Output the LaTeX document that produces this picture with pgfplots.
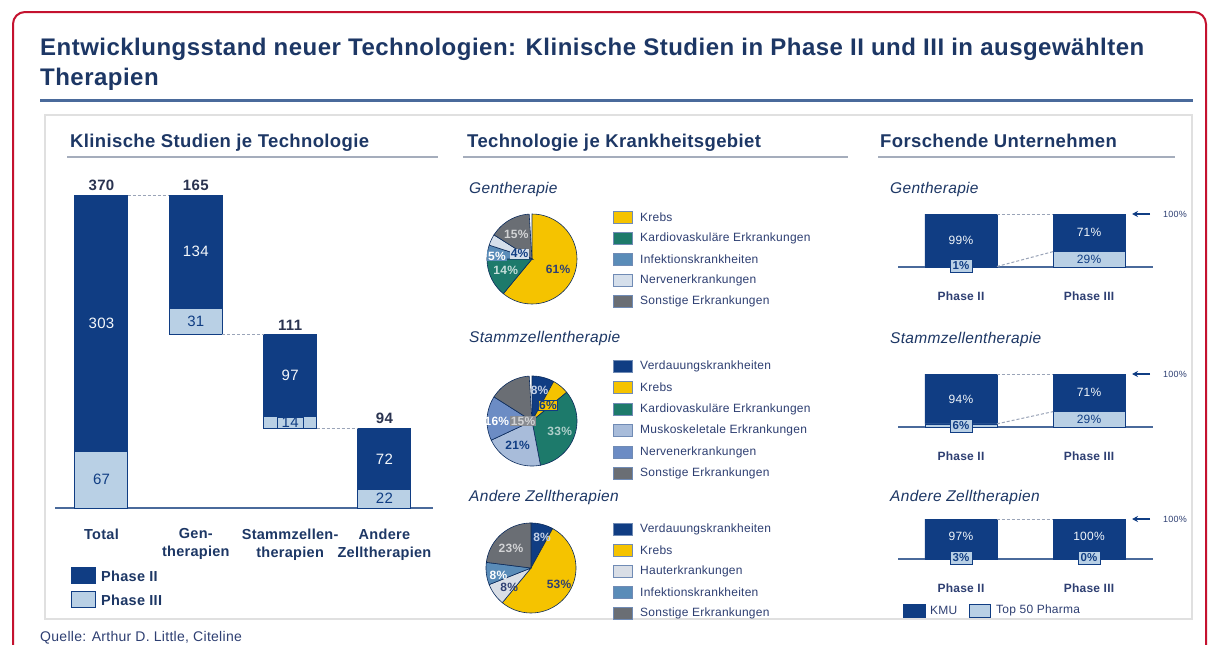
\documentclass[border=0pt]{standalone}
\usepackage{fontspec}
\setmainfont{Liberation Sans}[LetterSpace=2]
\usepackage{pgfplots}
\pgfplotsset{compat=1.18}
\usepgfplotslibrary{polar}
\usetikzlibrary{arrows.meta}

\definecolor{navy}{HTML}{1D3765}
\definecolor{txt}{HTML}{2E3F72}
\definecolor{tot}{HTML}{2A3350}
\definecolor{bardark}{HTML}{103D83}
\definecolor{barlight}{HTML}{B9D0E5}
\definecolor{krebs}{HTML}{F5C300}
\definecolor{kardio}{HTML}{1D7A6B}
\definecolor{infekt}{HTML}{5A8CB8}
\definecolor{nervlight}{HTML}{D5DFEB}
\definecolor{nervmid}{HTML}{6C8CC4}
\definecolor{musko}{HTML}{A8BCDA}
\definecolor{sonst}{HTML}{6A6E74}
\definecolor{haut}{HTML}{D9DEE6}
\definecolor{frame}{HTML}{C4122F}
\definecolor{rule}{HTML}{4A6A9B}
\definecolor{hdr}{HTML}{A5ADBC}
\definecolor{conn}{HTML}{9AA4B8}

\newcommand\fs[1]{\fontsize{#1}{#1}\selectfont}

% pie slice: colour, cumulative start %, cumulative end % (clockwise from 12 o'clock)
\newcommand\slice[3]{%
  \addplot[fill=#1, draw=bardark!70!black, line width=0.6pt,
    domain=90-3.6*#3:90-3.6*#2, samples=40] {1} -- (axis cs:0,0) -- cycle;}

\tikzset{
  pl/.style={font=\fs{12}\bfseries, inner sep=0.8pt},
  pv/.style={font=\fs{12}, inner sep=1pt},
  small/.style={font=\fs{11.5}\bfseries, text=bardark, fill=barlight, draw=bardark,
    line width=0.6pt, inner sep=1pt, minimum width=22pt, minimum height=13pt},
}
\pgfplotsset{
  pie/.style={hide axis, scale only axis, width=90pt, height=90pt,
    ymin=0, ymax=1, anchor=center, clip=false},
  wf/.style={scale only axis, width=378pt, height=313pt, ymin=0, ymax=370,
    xmin=-0.493, xmax=3.515, anchor=south west, clip=false},
  rc/.style={scale only axis, width=255pt, height=#1, xmin=-0.492, xmax=1.5,
    ymin=0, ymax=100, anchor=south west, clip=false},
  rbars/.style={rc=#1, ybar stacked, bar width=72pt,
    axis x line=bottom, axis y line=none,
    axis line style={-, draw=rule, line width=2pt},
    xtick={0,1}, xticklabels={Phase II,Phase III}, major tick length=0pt,
    xticklabel style={font=\fs{12}\bfseries, text=txt, yshift=-21pt}},
  rlines/.style={rc=#1, hide axis},
  cn/.style={densely dashed, draw=conn, line width=1pt, no marks},
}

\begin{document}
\begin{tikzpicture}
\useasboundingbox (0pt,0pt) rectangle (1210pt,-645pt);
\begin{scope}[x=1pt,y=-1pt]
\fill[white] (0,0) rectangle (1210,645);
\draw[frame, line width=2pt, rounded corners=12pt] (13,12) rectangle (1206,720);
\node[anchor=base west, text=navy, font=\fs{24}\bfseries, inner sep=0] at (40,55)
  {Entwicklungsstand neuer Technologien: Klinische Studien in Phase II und III in ausgewählten};
\node[anchor=base west, text=navy, font=\fs{24}\bfseries, inner sep=0] at (40,85) {Therapien};
\draw[rule, line width=3pt] (40,100) -- (1193,100);
\draw[black!12, line width=2pt] (45,115) rectangle (1192,619);

% section headers
\node[anchor=base west, text=navy, font=\fs{18.5}\bfseries, inner sep=0] at (70,147) {Klinische Studien je Technologie};
\draw[hdr, line width=2.5pt] (67,157) -- (438,157);
\node[anchor=base west, text=navy, font=\fs{18.5}\bfseries, inner sep=0] at (467,147) {Technologie je Krankheitsgebiet};
\draw[hdr, line width=2.5pt] (463,157) -- (848,157);
\node[anchor=base west, text=navy, font=\fs{18.5}\bfseries, inner sep=0] at (880,147) {Forschende Unternehmen};
\draw[hdr, line width=2.5pt] (878,157) -- (1175,157);

% waterfall legend
\filldraw[fill=bardark, draw=bardark] (71,567) rectangle (95,583);
\node[anchor=west, text=navy, font=\fs{14.5}\bfseries, inner sep=0] at (101,576) {Phase II};
\filldraw[fill=barlight, draw=bardark, line width=0.8pt] (71,591) rectangle (95,607);
\node[anchor=west, text=navy, font=\fs{14.5}\bfseries, inner sep=0] at (101,600) {Phase III};

% pie subtitles
\node[anchor=base west, text=navy, font=\fs{15.5}\itshape, inner sep=0] at (469,193) {Gentherapie};
\node[anchor=base west, text=navy, font=\fs{15.5}\itshape, inner sep=0] at (469,342) {Stammzellentherapie};
\node[anchor=base west, text=navy, font=\fs{15.5}\itshape, inner sep=0] at (469,501) {Andere Zelltherapien};
\node[anchor=base west, text=navy, font=\fs{15.5}\itshape, inner sep=0] at (890,193) {Gentherapie};
\node[anchor=base west, text=navy, font=\fs{15.5}\itshape, inner sep=0] at (890,343) {Stammzellentherapie};
\node[anchor=base west, text=navy, font=\fs{15.5}\itshape, inner sep=0] at (890,501) {Andere Zelltherapien};

% pie legends
\foreach \c/\t [count=\i from 0] in {krebs/Krebs, kardio/Kardiovaskuläre Erkrankungen,
    infekt/Infektionskrankheiten, nervlight/Nervenerkrankungen, sonst/Sonstige Erkrankungen}{
  \filldraw[fill=\c, draw=bardark!60, line width=0.7pt] (613,211+21*\i) rectangle (632,223+21*\i);
  \node[anchor=west, text=txt, font=\fs{12}, inner sep=0] at (640,217+21*\i) {\t};}
\foreach \c/\t [count=\i from 0] in {bardark/Verdauungskrankheiten, krebs/Krebs,
    kardio/Kardiovaskuläre Erkrankungen, musko/Muskoskeletale Erkrankungen,
    nervmid/Nervenerkrankungen, sonst/Sonstige Erkrankungen}{
  \filldraw[fill=\c, draw=bardark!60, line width=0.7pt] (613,360+21.5*\i) rectangle (632,372+21.5*\i);
  \node[anchor=west, text=txt, font=\fs{12}, inner sep=0] at (640,366+21.5*\i) {\t};}
\foreach \c/\t [count=\i from 0] in {bardark/Verdauungskrankheiten, krebs/Krebs,
    haut/Hauterkrankungen, infekt/Infektionskrankheiten, sonst/Sonstige Erkrankungen}{
  \filldraw[fill=\c, draw=bardark!60, line width=0.7pt] (613,523+21*\i) rectangle (632,535+21*\i);
  \node[anchor=west, text=txt, font=\fs{12}, inner sep=0] at (640,529+21*\i) {\t};}

% 100% arrows
\foreach \y in {214,374,519}{
  \draw[-{Stealth[length=6pt,width=6pt]}, bardark, line width=1.5pt] (1150,\y) -- (1132,\y);
  \node[anchor=west, text=txt, font=\fs{9}, inner sep=0] at (1163,\y) {100\%};}

% KMU legend
\filldraw[fill=bardark, draw=bardark] (903,604) rectangle (925,617);
\node[anchor=west, text=txt, font=\fs{12}, inner sep=0] at (930,610.5) {KMU};
\filldraw[fill=barlight, draw=bardark, line width=0.7pt] (969,604) rectangle (990,617);
\node[anchor=west, text=txt, font=\fs{12}, inner sep=0] at (996,610.5) {Top 50 Pharma};

\node[anchor=base west, text=txt, font=\fs{14}, inner sep=0] at (40,641) {Quelle: Arthur D. Little, Citeline};
\end{scope}

% ---- waterfall: Klinische Studien je Technologie
\begin{axis}[wf, at={(55pt,-508pt)}, ybar stacked, bar width=53pt,
  axis x line=bottom, axis y line=none, axis line style={-, draw=rule, line width=2.5pt},
  xtick={0,1,2,3},
  xticklabels={Total,{Gen-\\therapien},{Stammzellen-\\therapien},{Andere\\Zelltherapien}},
  major tick length=0pt,
  xticklabel style={align=center, font=\fontsize{14.5}{18}\selectfont\bfseries, text=navy, yshift=-17pt}]
\addplot[draw=none, fill=none] coordinates {(0,0) (1,205) (2,94) (3,0)};
\addplot[fill=barlight, draw=bardark, line width=1pt] coordinates {(0,67) (1,31) (2,14) (3,22)};
\addplot[fill=bardark, draw=bardark, line width=1pt] coordinates {(0,303) (1,134) (2,97) (3,72)};
\end{axis}
\begin{axis}[wf, at={(55pt,-508pt)}, hide axis]
\addplot[cn] coordinates {(0.281,370) (0.719,370)};
\addplot[cn] coordinates {(1.281,205) (1.719,205)};
\addplot[cn] coordinates {(2.281,94) (2.719,94)};
\foreach \x/\y/\v in {0/370/370, 1/370/165, 2/205/111, 3/94/94}{
  \edef\tmp{\noexpand\node[anchor=south, font=\noexpand\fs{15}\noexpand\bfseries, text=tot, yshift=1pt] at (axis cs:\x,\y) {\v};}\tmp}
\foreach \x/\y/\v in {0/218.5/303, 1/303/134, 2/156.5/97, 3/58/72}{
  \edef\tmp{\noexpand\node[font=\noexpand\fs{15}, text=white!85!barlight] at (axis cs:\x,\y) {\v};}\tmp}
\foreach \x/\y/\v in {0/33.5/67, 1/220.5/31, 3/11/22}{
  \edef\tmp{\noexpand\node[font=\noexpand\fs{15}, text=bardark] at (axis cs:\x,\y) {\v};}\tmp}
\node[font=\fs{15}, text=bardark, fill=barlight, draw=bardark, line width=0.8pt, inner sep=0.5pt, minimum width=26pt] at (axis cs:2,101) {14};
\end{axis}

% ---- pies: Technologie je Krankheitsgebiet
\begin{polaraxis}[pie, at={(532pt,-259pt)}]
\slice{krebs}{0}{61}
\slice{kardio}{61}{75}
\slice{infekt}{75}{80}
\slice{nervlight}{80}{84}
\slice{sonst}{84}{99}
\node[pl, text=txt] at (axis cs:-21,0.62) {61\%};
\node[pl, text=white!75!kardio] at (axis cs:204,0.64) {14\%};
\node[pl, text=white, fill=infekt] at (axis cs:175,0.78) {5\%};
\node[pl, text=bardark, fill=nervlight] at (axis cs:157,0.3) {4\%};
\node[pl, text=white!70!sonst] at (axis cs:123,0.64) {15\%};
\end{polaraxis}

\begin{polaraxis}[pie, at={(532pt,-421pt)}]
\slice{bardark}{0}{8}
\slice{krebs}{8}{14}
\slice{kardio}{14}{47}
\slice{musko}{47}{68}
\slice{nervmid}{68}{84}
\slice{sonst}{84}{99}
\node[pl, text=white!60!nervmid] at (axis cs:76,0.7) {8\%};
\node[pl, text=bardark, fill=krebs, draw=bardark, line width=0.6pt] at (axis cs:45,0.5) {6\%};
\node[pl, text=white!65!kardio] at (axis cs:-21,0.66) {33\%};
\node[pl, text=bardark] at (axis cs:239,0.62) {21\%};
\node[pl, text=white] at (axis cs:180,0.78) {16\%};
\node[pl, text=white!70!sonst, fill=sonst!80] at (axis cs:180,0.2) {15\%};
\end{polaraxis}

\begin{polaraxis}[pie, at={(531pt,-568pt)}]
\slice{bardark}{0}{8}
\slice{krebs}{8}{61}
\slice{haut}{61}{69}
\slice{infekt}{69}{77}
\slice{sonst}{77}{100}
\node[pl, text=white!60!nervmid] at (axis cs:70,0.72) {8\%};
\node[pl, text=txt] at (axis cs:-30,0.72) {53\%};
\node[pl, text=txt] at (axis cs:221,0.64) {8\%};
\node[pl, text=white] at (axis cs:192,0.74) {8\%};
\node[pl, text=white!70!sonst] at (axis cs:136,0.62) {23\%};
\end{polaraxis}

% ---- Forschende Unternehmen
\begin{axis}[rbars=53pt, at={(898pt,-267pt)}]
\addplot[fill=barlight, draw=bardark, line width=0.6pt] coordinates {(0,1) (1,29)};
\addplot[fill=bardark, draw=bardark, line width=0.6pt] coordinates {(0,99) (1,71)};
\end{axis}
\begin{axis}[rlines=53pt, at={(898pt,-267pt)}]
\addplot[cn] coordinates {(0.281,100) (0.719,100)};
\addplot[cn] coordinates {(0.281,1) (0.719,29)};
\node[pv, text=white!80!barlight] at (axis cs:0,50.5) {99\%};
\node[pv, text=white!80!barlight] at (axis cs:1,64.5) {71\%};
\node[pv, text=bardark] at (axis cs:1,14.5) {29\%};
\node[small, yshift=1.5pt] at (axis cs:0,0) {1\%};
\end{axis}

\begin{axis}[rbars=53pt, at={(898pt,-427pt)}]
\addplot[fill=barlight, draw=bardark, line width=0.6pt] coordinates {(0,6) (1,29)};
\addplot[fill=bardark, draw=bardark, line width=0.6pt] coordinates {(0,94) (1,71)};
\end{axis}
\begin{axis}[rlines=53pt, at={(898pt,-427pt)}]
\addplot[cn] coordinates {(0.281,100) (0.719,100)};
\addplot[cn] coordinates {(0.281,6) (0.719,29)};
\node[pv, text=white!80!barlight] at (axis cs:0,53) {94\%};
\node[pv, text=white!80!barlight] at (axis cs:1,64.5) {71\%};
\node[pv, text=bardark] at (axis cs:1,14.5) {29\%};
\node[small, yshift=1.5pt] at (axis cs:0,0) {6\%};
\end{axis}

\begin{axis}[rbars=40pt, at={(898pt,-559pt)}]
\addplot[fill=barlight, draw=bardark, line width=0.6pt] coordinates {(0,3) (1,0)};
\addplot[fill=bardark, draw=bardark, line width=0.6pt] coordinates {(0,97) (1,100)};
\end{axis}
\begin{axis}[rlines=40pt, at={(898pt,-559pt)}]
\addplot[cn] coordinates {(0.281,100) (0.719,100)};
\node[pv, text=white!80!barlight] at (axis cs:0,56) {97\%};
\node[pv, text=white!80!barlight] at (axis cs:1,56) {100\%};
\node[small, yshift=1.5pt] at (axis cs:0,0) {3\%};
\node[small, yshift=1.5pt] at (axis cs:1,0) {0\%};
\end{axis}
\end{tikzpicture}
\end{document}
